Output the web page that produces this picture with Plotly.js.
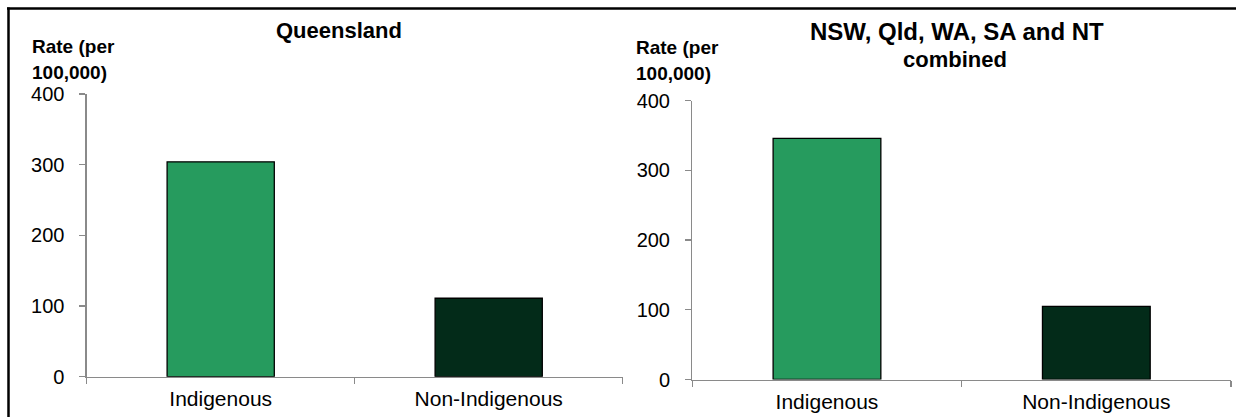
<!DOCTYPE html>
<html>
<head>
<meta charset="utf-8">
<script src="https://cdn.plot.ly/plotly-3.0.1.min.js"></script>
<style>
  html, body { margin: 0; padding: 0; background: #fff; }
  #chart { width: 1236px; height: 417px; }
</style>
</head>
<body>
<div id="chart"></div>
<script>
// ---- Data ----
const categories = ["Indigenous", "Non-Indigenous"];
const qldValues = [304, 111];
const combinedValues = [346, 105];
const barColors = ["#269B5E", "#032B19"];
const yTicks = [0, 100, 200, 300, 400];
const panelTitles = ["Queensland", "NSW, Qld, WA, SA and NT", "combined"];
const yTitleLines = ["Rate (per", "100,000)"];

const W = 1236, H = 417;
const px = v => v / W;
const py = v => (H - v) / H;

const FONT = "Liberation Sans, Arial, Helvetica, sans-serif";

const barStyle = {
  type: "bar",
  marker: { color: barColors, line: { color: "#000000", width: 1.3 } },
  hoverinfo: "x+y",
  showlegend: false
};

const traces = [
  Object.assign({}, barStyle, { x: categories, y: qldValues, xaxis: "x", yaxis: "y" }),
  Object.assign({}, barStyle, { x: categories, y: combinedValues, xaxis: "x2", yaxis: "y2" })
];

function xAxis(domain, anchor) {
  return {
    domain: domain, anchor: anchor,
    showline: true, linecolor: "#8a8a8a", linewidth: 1.3,
    ticks: "outside", tickson: "boundaries", ticklen: 6, tickcolor: "#8a8a8a", tickwidth: 1.3,
    showgrid: false, zeroline: false,
    tickfont: { family: FONT, size: 21, color: "#000" },
    ticklabelstandoff: 3,
    fixedrange: true
  };
}
function yAxis(domain, anchor) {
  return {
    domain: domain, anchor: anchor,
    range: [0, 400], tickvals: yTicks, ticktext: yTicks.map(String),
    showline: true, linecolor: "#8a8a8a", linewidth: 1.3,
    ticks: "outside", ticklen: 6, tickcolor: "#8a8a8a", tickwidth: 1.3,
    showgrid: false, zeroline: false,
    tickfont: { family: FONT, size: 20, color: "#000" },
    ticklabelstandoff: 11,
    fixedrange: true
  };
}

function ann(text, x, y, opts) {
  return Object.assign({
    text: text, x: px(x), y: py(y), xref: "paper", yref: "paper",
    showarrow: false, yanchor: "middle",
    font: { family: FONT, size: 20, color: "#000" }
  }, opts || {});
}

const boldTitle = { family: FONT, size: 22, color: "#000", weight: "bold" };
const boldTitleWide = { family: FONT, size: 24, color: "#000", weight: "bold" };
const boldY = { family: FONT, size: 19, color: "#000", weight: "bold" };

const layout = {
  width: W, height: H,
  margin: { l: 0, r: 0, t: 0, b: 0 },
  paper_bgcolor: "#ffffff", plot_bgcolor: "#ffffff",
  bargap: 0.6,
  xaxis: xAxis([px(86.7), px(622.7)], "y"),
  yaxis: yAxis([py(376.7), py(94)], "x"),
  xaxis2: xAxis([px(692.3), px(1231)], "y2"),
  yaxis2: yAxis([py(379.5), py(100.7)], "x2"),
  annotations: [
    ann("<b>" + panelTitles[0] + "</b>", 339, 31, { xanchor: "center", font: boldTitle }),
    ann("<b>" + panelTitles[1] + "</b>", 957, 32, { xanchor: "center", font: boldTitleWide }),
    ann("<b>" + panelTitles[2] + "</b>", 955, 59, { xanchor: "center", font: boldTitle }),
    ann("<b>" + yTitleLines[0] + "</b>", 30, 47, { xanchor: "left", font: boldY }),
    ann("<b>" + yTitleLines[1] + "</b>", 30, 72, { xanchor: "left", font: boldY }),
    ann("<b>" + yTitleLines[0] + "</b>", 634, 48, { xanchor: "left", font: boldY }),
    ann("<b>" + yTitleLines[1] + "</b>", 634, 73, { xanchor: "left", font: boldY })
  ],
  shapes: [
    { type: "line", xref: "paper", yref: "paper", x0: px(7), x1: 1, y0: py(8.5), y1: py(8.5), line: { color: "#000", width: 2.5 } },
    { type: "line", xref: "paper", yref: "paper", x0: px(8.5), x1: px(8.5), y0: 0, y1: py(7.5), line: { color: "#000", width: 2.5 } }
  ]
};

Plotly.newPlot("chart", traces, layout, { displayModeBar: false, staticPlot: true });
</script>
</body>
</html>
